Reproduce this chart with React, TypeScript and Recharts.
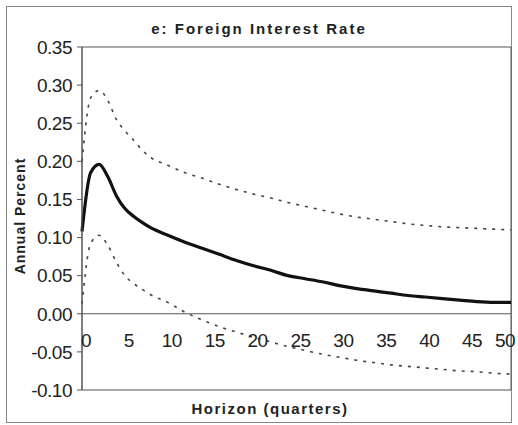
import {
  LineChart,
  Line,
  XAxis,
  YAxis,
  ReferenceLine,
  ReferenceArea,
} from 'recharts';

// Horizon in quarters and the impulse response with its error bands
const horizon = [0, 1, 2, 3, 4, 5, 6, 7, 8, 10, 12, 14, 16, 18, 20, 22, 24, 26, 28, 30, 32, 34, 36, 38, 40, 42, 44, 46, 48, 50];
const response = [0.108, 0.185, 0.196, 0.18, 0.155, 0.138, 0.128, 0.12, 0.113, 0.103, 0.094, 0.086, 0.078, 0.07, 0.063, 0.057, 0.05, 0.046, 0.042, 0.037, 0.033, 0.03, 0.027, 0.024, 0.022, 0.02, 0.018, 0.016, 0.015, 0.015];
const upperBand = [0.2, 0.283, 0.293, 0.28, 0.255, 0.24, 0.228, 0.215, 0.205, 0.195, 0.185, 0.178, 0.17, 0.163, 0.157, 0.152, 0.146, 0.141, 0.136, 0.131, 0.127, 0.124, 0.121, 0.118, 0.116, 0.114, 0.113, 0.112, 0.111, 0.11];
const lowerBand = [0.013, 0.092, 0.103, 0.09, 0.068, 0.05, 0.04, 0.032, 0.025, 0.015, 0.002, -0.008, -0.017, -0.024, -0.031, -0.037, -0.043, -0.048, -0.053, -0.057, -0.061, -0.064, -0.067, -0.069, -0.071, -0.073, -0.075, -0.076, -0.078, -0.079];

const xTicks = [0, 5, 10, 15, 20, 25, 30, 35, 40, 45, 50];
const yTicks = [-0.1, -0.05, 0, 0.05, 0.1, 0.15, 0.2, 0.25, 0.3, 0.35];

const chartData = horizon.map((h, i) => ({
  h,
  mid: response[i],
  hi: upperBand[i],
  lo: lowerBand[i],
}));

const FONT = '"Liberation Sans", Arial, sans-serif';

// x tick labels sit just under the zero line, as in the original
function XTick({ x, y, payload }: any) {
  // keep the last label inside the frame
  const cx = Math.min(x + 4, 505);
  return (
    <text x={cx} y={y - 51} textAnchor="middle" fontFamily={FONT} fontSize={19} fill="#222" letterSpacing={-0.5}>
      {payload.value}
    </text>
  );
}

export default function App() {
  return (
    <div style={{ position: 'absolute', left: 0, top: 0, width: 518, height: 425, background: '#fff', fontFamily: FONT }}>
      <div style={{ position: 'absolute', left: 6, top: 6, width: 504, height: 415, border: '1px solid #888' }} />
      <div style={{ position: 'absolute', left: 0, width: 518, top: 20, textAlign: 'center', fontSize: 15, fontWeight: 700, letterSpacing: 2, color: '#222' }}>
        e: Foreign Interest Rate
      </div>
      <div style={{ position: 'absolute', left: 180, width: 180, top: 400, textAlign: 'center', fontSize: 15, fontWeight: 700, letterSpacing: 1.5, color: '#222' }}>
        Horizon (quarters)
      </div>
      <div style={{ position: 'absolute', left: 20, top: 217, width: 160, marginLeft: -80, marginTop: -9, textAlign: 'center', fontSize: 14, fontWeight: 700, letterSpacing: 1, color: '#222', transform: 'rotate(-90deg)' }}>
        Annual Percent
      </div>
      <div style={{ position: 'absolute', left: 0, top: 0 }}>
        <LineChart width={518} height={425} data={chartData} margin={{ top: 47, right: 7, bottom: 0, left: 0 }}>
          <XAxis
            dataKey="h"
            type="number"
            domain={[0, 50]}
            ticks={xTicks}
            height={35}
            axisLine={false}
            tickLine={false}
            tick={<XTick />}
            interval={0}
          />
          <YAxis
            type="number"
            domain={[-0.1, 0.35]}
            ticks={yTicks}
            width={82}
            axisLine={{ stroke: '#555' }}
            tickLine={{ stroke: '#555' }}
            tickSize={5}
            tickMargin={5}
            tickFormatter={(v: number) => v.toFixed(2)}
            tick={{ fontSize: 19, fill: '#222', fontFamily: FONT, letterSpacing: -0.5 }}
            interval={0}
          />
          <ReferenceArea x1={0} x2={50} y1={-0.1} y2={0.35} fill="none" stroke="#555" strokeWidth={1} />
          <ReferenceLine y={0} stroke="#555" strokeWidth={1} />
          <Line type="monotone" dataKey="hi" stroke="#444" strokeWidth={1.6} strokeDasharray="3 6" dot={false} isAnimationActive={false} />
          <Line type="monotone" dataKey="lo" stroke="#444" strokeWidth={1.6} strokeDasharray="3 6" dot={false} isAnimationActive={false} />
          <Line type="monotone" dataKey="mid" stroke="#111" strokeWidth={3.2} dot={false} isAnimationActive={false} />
        </LineChart>
      </div>
    </div>
  );
}
